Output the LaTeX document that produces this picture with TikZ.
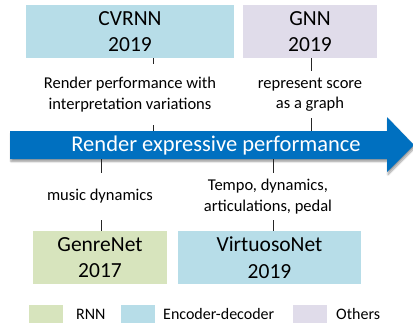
\documentclass[tikz,border=0pt]{standalone}
\usepackage{fontspec}
\setmainfont{Carlito}
\usepackage{tikz}
\usetikzlibrary{positioning,shadows,shadows.blur}
\definecolor{rnncol}{HTML}{D7E4BD}
\definecolor{enccol}{HTML}{B7DDE8}
\definecolor{othcol}{HTML}{E0DCEA}
\definecolor{arrcol}{HTML}{0070C0}
\tikzset{
    % Define style for model boxes
    modelbox/.style={
           rectangle,
           inner sep=0pt,
           minimum height=53pt,
           align=center,
           font=\fontsize{21.5}{26.5}\selectfont},
    % Define style for notes
    note/.style={
           inner sep=0pt,
           minimum height=47pt,
           align=center,
           font=\fontsize{16.5}{20.5}\selectfont},
    % Define style for legend swatches
    swatch/.style={rectangle,minimum width=34pt,minimum height=18pt,inner sep=0pt},
    legtext/.style={anchor=west,inner sep=0pt,font=\fontsize{16}{18}\selectfont},
    tick/.style={draw=black!85,line width=0.8pt}
}

\begin{document}
\begin{tikzpicture}[x=1pt,y=-1pt]
  \useasboundingbox (0,0) rectangle (413,325);
  % main arrow
  \fill[arrcol,blur shadow={shadow xshift=1pt,shadow yshift=-2.5pt,shadow blur steps=5}]
    (10,131) -- (387,131) -- (387,117) -- (414,145) -- (387,172) -- (387,159) -- (10,159) -- cycle;
  \node[text=white,font=\fontsize{22.5}{26}\selectfont] (arrtxt) at (216,145) {Render expressive performance};
  \coordinate (a1) at (153,131);
  \coordinate (a2) at (311,131);
  \coordinate (b1) at (101,159);
  \coordinate (b2) at (273,159);
  % models
  \node[modelbox,fill=enccol,minimum width=208pt] (cvrnn) at (130,31.5) {CVRNN\\2019};
  \node[modelbox,fill=othcol,minimum width=134pt] (gnn) at (310,31.5) {GNN\\2019};
  \node[modelbox,fill=rnncol,minimum width=134pt] (genre) at (100,257.5) {GenreNet\\2017};
  \node[modelbox,fill=enccol,minimum width=183pt] (virt) at (269.5,257.5) {VirtuosoNet\\2019};
  % notes
  \node[note,minimum height=61pt] (n1) at (130,94.5) {Render performance with\\interpretation variations};
  \node[note] (n2) at (310,94.5) {represent score\\as a graph};
  \node[note] (n3) at (100,196.5) {music dynamics};
  \node[note] (n4) at (268,196.5) {Tempo, dynamics,\\articulations, pedal};
  % ticks
  \draw[tick] (cvrnn.south -| a1) -- (n1.north -| a1);
  \draw[tick] (n1.south -| a1) -- (a1);
  \draw[tick] (gnn.south -| a2) -- (n2.north -| a2);
  \draw[tick] (n2.south -| a2) -- (a2);
  \draw[tick] (b1) -- (n3.north -| b1);
  \draw[tick] (n3.south -| b1) -- (genre.north -| b1);
  \draw[tick] (b2) -- (n4.north -| b2);
  \draw[tick] (n4.south -| b2) -- (virt.north -| b2);
  % legend
  \node[swatch,fill=rnncol] (s1) at (46,314) {};
  \node[legtext] (l1) at (76,314) {RNN};
  \node[swatch,fill=enccol] (s2) at (137.5,314) {};
  \node[legtext] (l2) at (163,314) {Encoder-decoder};
  \node[swatch,fill=othcol] (s3) at (309.5,314) {};
  \node[legtext] (l3) at (336,314) {Others};
\end{tikzpicture}
\end{document}
